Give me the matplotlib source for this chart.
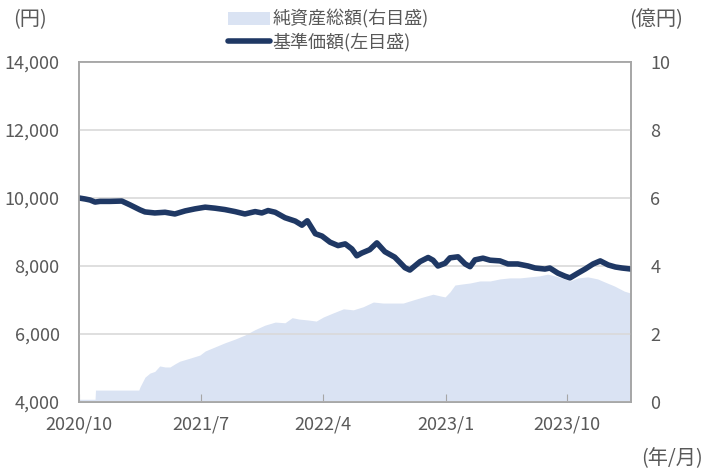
import numpy as np
import pandas as pd
import matplotlib
matplotlib.use('Agg')
import matplotlib.pyplot as plt
from matplotlib.ticker import FuncFormatter

plt.rcParams['font.family'] = ['Noto Sans CJK JP', 'DejaVu Sans']

# 基準価額 (円)
nav_dates = ['2020-10-01', '2020-10-15', '2020-10-26', '2020-11-06', '2020-11-17',
             '2020-12-09', '2021-01-05', '2021-01-23', '2021-02-15', '2021-02-26',
             '2021-03-20', '2021-04-12', '2021-05-04', '2021-05-27', '2021-06-18',
             '2021-07-11', '2021-08-02', '2021-08-24', '2021-09-16', '2021-10-08',
             '2021-10-31', '2021-11-15', '2021-11-29', '2021-12-15', '2022-01-06',
             '2022-01-29', '2022-02-13', '2022-02-25', '2022-03-15', '2022-03-30',
             '2022-04-17', '2022-05-05', '2022-05-21', '2022-06-05', '2022-06-16',
             '2022-06-27', '2022-07-15', '2022-07-31', '2022-08-18', '2022-09-09',
             '2022-09-21', '2022-10-02', '2022-10-13', '2022-10-24', '2022-11-05',
             '2022-11-23', '2022-12-04', '2022-12-15', '2022-12-31', '2023-01-11',
             '2023-01-29', '2023-02-14', '2023-02-25', '2023-03-08', '2023-03-26',
             '2023-04-11', '2023-05-03', '2023-05-21', '2023-06-12', '2023-07-05',
             '2023-07-21', '2023-08-12', '2023-08-23', '2023-09-10', '2023-09-26',
             '2023-10-07', '2023-10-25', '2023-11-10', '2023-11-28', '2023-12-14',
             '2024-01-01', '2024-01-17', '2024-02-01', '2024-02-21']
nav_values = [10000, 9970, 9940, 9880, 9900,
              9900, 9910, 9800, 9650, 9590,
              9560, 9580, 9530, 9620, 9680,
              9730, 9700, 9660, 9600, 9530,
              9600, 9560, 9630, 9580, 9420,
              9320, 9200, 9330, 8950, 8880,
              8700, 8600, 8650, 8500, 8300,
              8380, 8480, 8680, 8420, 8260,
              8100, 7950, 7880, 8000, 8130,
              8250, 8170, 8000, 8080, 8240,
              8270, 8060, 7980, 8180, 8230,
              8170, 8150, 8060, 8060, 8000,
              7940, 7910, 7940, 7790, 7700,
              7650, 7790, 7910, 8060, 8150,
              8030, 7970, 7940, 7910]

# 純資産総額 (億円)
aum_dates = ['2020-10-01', '2020-11-06', '2020-11-07', '2021-02-12', '2021-02-15',
             '2021-02-26', '2021-03-09', '2021-03-20', '2021-03-31', '2021-04-12',
             '2021-04-23', '2021-05-04', '2021-05-15', '2021-06-07', '2021-06-29',
             '2021-07-11', '2021-08-02', '2021-08-24', '2021-09-16', '2021-10-08',
             '2021-10-31', '2021-11-22', '2021-12-15', '2022-01-06', '2022-01-22',
             '2022-02-06', '2022-02-28', '2022-03-17', '2022-04-02', '2022-04-24',
             '2022-05-17', '2022-06-08', '2022-06-30', '2022-07-23', '2022-08-14',
             '2022-09-06', '2022-09-28', '2022-10-20', '2022-11-12', '2022-12-04',
             '2022-12-20', '2022-12-31', '2023-01-11', '2023-01-22', '2023-02-07',
             '2023-02-25', '2023-03-19', '2023-04-11', '2023-05-03', '2023-05-25',
             '2023-06-17', '2023-07-09', '2023-07-31', '2023-08-18', '2023-09-03',
             '2023-09-19', '2023-10-07', '2023-10-25', '2023-11-16', '2023-12-08',
             '2023-12-24', '2024-01-15', '2024-02-06', '2024-02-21']
aum_values = [0.08, 0.08, 0.35, 0.35, 0.45,
              0.73, 0.85, 0.90, 1.06, 1.03,
              1.03, 1.12, 1.20, 1.29, 1.38,
              1.50, 1.62, 1.74, 1.85, 1.97,
              2.13, 2.26, 2.35, 2.33, 2.48,
              2.44, 2.41, 2.38, 2.50, 2.62,
              2.74, 2.71, 2.80, 2.94, 2.91,
              2.91, 2.91, 3.00, 3.09, 3.17,
              3.12, 3.09, 3.24, 3.44, 3.47,
              3.50, 3.56, 3.56, 3.62, 3.65,
              3.65, 3.68, 3.71, 3.76, 3.71,
              3.65, 3.56, 3.65, 3.68, 3.62,
              3.53, 3.41, 3.26, 3.20]

tick_dates = ['2020-10-01', '2021-07-01', '2022-04-01', '2023-01-01', '2023-10-01']
tick_labels = ['2020/10', '2021/7', '2022/4', '2023/1', '2023/10']

nav_x = pd.to_datetime(nav_dates)
aum_x = pd.to_datetime(aum_dates)

gray = '#595959'
spine = '#a6a6a6'

fig = plt.figure(figsize=(7.06, 4.70), dpi=100)
ax = fig.add_axes([0.1119, 0.1447, 0.7819, 0.7234])
ax2 = ax.twinx()

# area on right axis, drawn behind the line
ax2.fill_between(aum_x, 0, aum_values, color='#dae3f3', linewidth=0, zorder=1,
                 label='純資産総額(右目盛)')
ax2.set_ylim(0, 10)
ax2.set_yticks(np.arange(0, 11, 2))

ax.set_ylim(4000, 14000)
ax.set_yticks(np.arange(4000, 14001, 2000))
ax.yaxis.set_major_formatter(FuncFormatter(lambda v, p: f'{int(v):,}'))
ax.grid(axis='y', color='#d9d9d9', linewidth=1.2)
ax.set_axisbelow(True)

# line axis above area axis
ax.set_zorder(ax2.get_zorder() + 1)
ax.patch.set_visible(False)
ax.plot(nav_x, nav_values, color='#1f3864', linewidth=4, solid_capstyle='round',
        label='基準価額(左目盛)')

ax.set_xlim(pd.Timestamp('2020-10-01'), pd.Timestamp('2024-02-21'))
ax.set_xticks(pd.to_datetime(tick_dates))
ax.set_xticklabels(tick_labels)

for a in (ax, ax2):
    for s in a.spines.values():
        s.set_color(spine)
        s.set_linewidth(1.2)
    a.tick_params(colors=gray, labelsize=13)

ax.tick_params(axis='y', length=0, pad=14)
ax2.tick_params(axis='y', length=0, pad=14)
ax.tick_params(axis='x', direction='in', length=6, color=spine, pad=10)

fig.text(0.018, 0.958, '(円)', color=gray, fontsize=14.5, va='center')
fig.text(0.968, 0.958, '(億円)', color=gray, fontsize=14.5, va='center', ha='right')
fig.text(0.995, 0.025, '(年/月)', color=gray, fontsize=14.5, va='center', ha='right')

h1, l1 = ax2.get_legend_handles_labels()
h2, l2 = ax.get_legend_handles_labels()
fig.legend(h1 + h2, l1 + l2, loc='center', bbox_to_anchor=(0.465, 0.935),
           frameon=False, fontsize=13, labelcolor=gray, handlelength=2.3,
           handletextpad=0.15, labelspacing=0.2, borderpad=0)

fig.savefig('out.png', dpi=100)
